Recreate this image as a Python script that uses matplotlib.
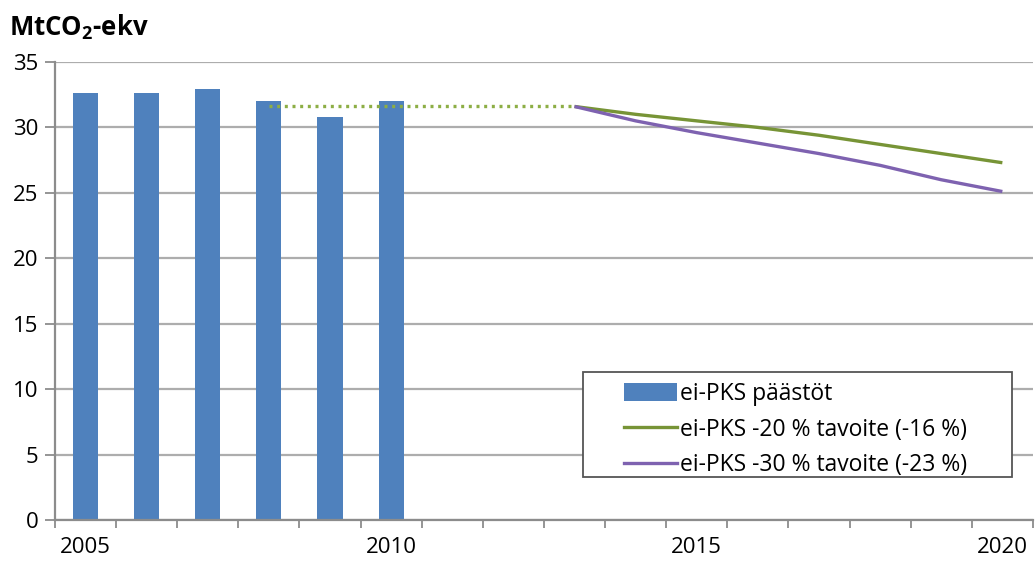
import matplotlib
matplotlib.use("Agg")
import matplotlib.pyplot as plt
from matplotlib.patches import Rectangle
from matplotlib.lines import Line2D
from matplotlib.patches import Patch

plt.rcParams['font.family'] = ['Open Sans', 'DejaVu Sans']
plt.rcParams['mathtext.fontset'] = 'custom'
plt.rcParams['mathtext.rm'] = 'Open Sans'
plt.rcParams['mathtext.bf'] = 'Open Sans:bold'

years = list(range(2005, 2021))
tick_labels = ["2005", "2010", "2015", "2020"]

emission_years = [2005, 2006, 2007, 2008, 2009, 2010]
emissions = [32.6, 32.6, 32.9, 32.0, 30.8, 32.0]

level_years = [2008, 2013]
level_values = [31.6, 31.6]

target_years = [2013, 2014, 2015, 2016, 2017, 2018, 2019, 2020]
target_20 = [31.6, 31.0, 30.5, 30.0, 29.4, 28.7, 28.0, 27.3]
target_30 = [31.6, 30.5, 29.6, 28.8, 28.0, 27.1, 26.0, 25.1]

labels = ["ei-PKS päästöt",
          "ei-PKS -20 % tavoite (-16 %)",
          "ei-PKS -30 % tavoite (-23 %)"]

c_bar = "#4F81BD"
c_green = "#779436"
c_dots = "#8DAE45"
c_purple = "#7E62B0"
c_grid = "#ADADAD"

fig = plt.figure(figsize=(10.35, 5.66), dpi=100)
ax = fig.add_axes([0.0531, 0.0813, 0.9449, 0.8092])

def pos(y):
    return years.index(y)

ax.bar([pos(y) for y in emission_years], emissions, width=0.41,
       color=c_bar, zorder=2)
ax.plot([pos(y) for y in level_years], level_values, color=c_dots,
        lw=2.4, linestyle=(0, (0.9, 1.4)), dash_capstyle='butt', zorder=3)
ax.plot([pos(y) for y in target_years], target_20, color=c_green,
        lw=2.4, zorder=3, solid_capstyle='butt')
ax.plot([pos(y) for y in target_years], target_30, color=c_purple,
        lw=2.4, zorder=3, solid_capstyle='butt')

ax.set_xlim(-0.5, len(years) - 0.5)
ax.set_ylim(0, 35)
ax.set_yticks(range(0, 36, 5))
ax.yaxis.grid(True, color=c_grid, lw=1.6, zorder=0)
ax.set_axisbelow(True)

ax.set_xticks([pos(int(t)) for t in tick_labels])
ax.set_xticklabels(tick_labels)
ax.set_xticks([i - 0.5 for i in range(len(years) + 1)], minor=True)
ax.tick_params(axis='x', which='major', length=0, pad=12, labelsize=16)
ax.tick_params(axis='x', which='minor', length=6, width=1.3, color="#8C8C8C")
ax.tick_params(axis='y', length=7, width=1.3, color="#8C8C8C", labelsize=16, pad=5)

for s in ['top', 'right']:
    ax.spines[s].set_visible(False)
for s in ['left', 'bottom']:
    ax.spines[s].set_color("#8C8C8C")
    ax.spines[s].set_linewidth(1.6)

fig.text(0.009, 0.952, r"MtCO$_\mathbf{2}$-ekv", fontsize=18.5, fontweight='bold',
         ha='left', va='center')

ax.add_patch(Rectangle((0.540, 0.0939), 0.4385, 0.2292, transform=ax.transAxes,
                       facecolor='white', edgecolor='#555555', lw=1.3, zorder=5))
handles = [Patch(facecolor=c_bar, edgecolor='none'),
           Line2D([], [], color=c_green, lw=2.4),
           Line2D([], [], color=c_purple, lw=2.4)]
leg = ax.legend(handles, labels, loc='upper left', bbox_to_anchor=(0.582, 0.301),
                frameon=False, fontsize=16.5, handlelength=2.3, handleheight=0.85,
                handletextpad=0.15, labelspacing=0.5, borderaxespad=0,
                borderpad=0)
leg.set_zorder(6)

fig.savefig("out.png", dpi=100)
